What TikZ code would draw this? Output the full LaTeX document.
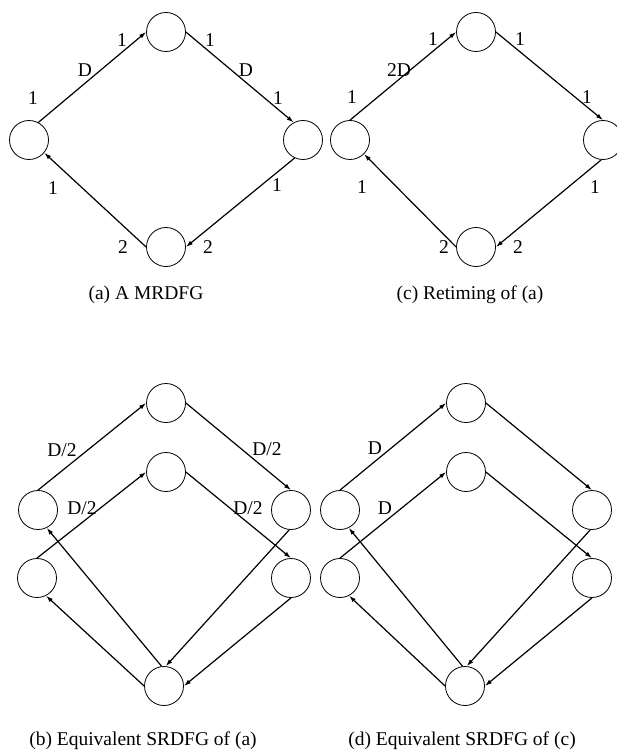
\documentclass[tikz,border=0pt]{standalone}
\usepackage{fontspec}
\setmainfont{Liberation Serif}
\usetikzlibrary{arrows.meta}
\begin{document}
\begin{tikzpicture}[x=1pt,y=-1pt,
  vtx/.style={circle,draw,line width=0.8pt,minimum size=39pt,inner sep=0pt},
  edge/.style={line width=1.2pt,-{Latex[length=7pt,width=4.5pt]}},
  lbl/.style={font=\fontsize{19.5}{22}\selectfont,inner sep=0pt,anchor=base},
  captxt/.style={font=\fontsize{19.5}{22}\selectfont,inner sep=0pt,anchor=base}]
\clip (0,0) rectangle (617,751);

% ---------- (a) multirate graph ----------
\node[vtx] (aT) at (166,32) {};
\node[vtx] (aL) at (29,140) {};
\node[vtx] (aR) at (303,140) {};
\node[vtx] (aB) at (166,247) {};
\draw[edge] (aL.62) -- (aT.west);
\draw[edge] (aT.east) -- (aR.118);
\draw[edge] (aR.245) -- (aB.east);
\draw[edge] (aB.west) -- (aL.-40);
\node[lbl] (a1) at (33,104.5) {1};
\node[lbl] (a2) at (85,76.5) {D};
\node[lbl] (a3) at (122,46.5) {1};
\node[lbl] (a4) at (210,46.5) {1};
\node[lbl] (a5) at (246,76.5) {D};
\node[lbl] (a6) at (278,104.5) {1};
\node[lbl] (a7) at (53,194.5) {1};
\node[lbl] (a8) at (277,191.5) {1};
\node[lbl] (a9) at (123,253.5) {2};
\node[lbl] (a10) at (208,253.5) {2};
\node[captxt] (capa) at (146,299) {(a) A MRDFG};

% ---------- (c) retimed graph ----------
\node[vtx] (cT) at (476,32) {};
\node[vtx] (cL) at (350,140) {};
\node[vtx] (cR) at (603,140) {};
\node[vtx] (cB) at (476,247) {};
\draw[edge] (cL.north) -- (cT.west);
\draw[edge] (cT.east) -- (cR.north);
\draw[edge] (cR.265) -- (cB.east);
\draw[edge] (cB.west) -- (cL.-45);
\node[lbl] (c1) at (352,103.5) {1};
\node[lbl] (c2) at (399,76.5) {2D};
\node[lbl] (c3) at (433,45.5) {1};
\node[lbl] (c4) at (520,45.5) {1};
\node[lbl] (c5) at (587,103.5) {1};
\node[lbl] (c6) at (595,193.5) {1};
\node[lbl] (c7) at (362,193.5) {1};
\node[lbl] (c8) at (444,253.5) {2};
\node[lbl] (c9) at (518,253.5) {2};
\node[captxt] (capc) at (470,299) {(c) Retiming of (a)};

% ---------- (b) single-rate equivalent of (a) ----------
\node[vtx] (bT1) at (166,403) {};
\node[vtx] (bT2) at (166,472) {};
\node[vtx] (bLU) at (38,510) {};
\node[vtx] (bLL) at (37,578) {};
\node[vtx] (bRU) at (291,510) {};
\node[vtx] (bRL) at (291,578) {};
\node[vtx] (bB) at (164,686) {};
\draw[edge] (bLU.north) -- (bT1.west);
\draw[edge] (bLL.north) -- (bT2.west);
\draw[edge] (bT1.east) -- (bRU.north);
\draw[edge] (bT2.east) -- (bRL.north);
\draw[edge] (bRU.265) -- (bB.85);
\draw[edge] (bRL.south) -- (bB.east);
\draw[edge] (bB.97) -- (bLU.-64);
\draw[edge] (bB.west) -- (bLL.-63);
\node[lbl] (b1) at (62,456.5) {D/2};
\node[lbl] (b2) at (82,514.5) {D/2};
\node[lbl] (b3) at (267,455.5) {D/2};
\node[lbl] (b4) at (248,514.5) {D/2};
\node[captxt] (capb) at (143,745) {(b) Equivalent SRDFG of (a)};

% ---------- (d) single-rate equivalent of (c) ----------
\node[vtx] (dT1) at (466,403) {};
\node[vtx] (dT2) at (466,472) {};
\node[vtx] (dLU) at (340,510) {};
\node[vtx] (dLL) at (340,578) {};
\node[vtx] (dRU) at (592,510) {};
\node[vtx] (dRL) at (592,578) {};
\node[vtx] (dB) at (465,686) {};
\draw[edge] (dLU.north) -- (dT1.west);
\draw[edge] (dLL.north) -- (dT2.west);
\draw[edge] (dT1.east) -- (dRU.north);
\draw[edge] (dT2.east) -- (dRL.north);
\draw[edge] (dRU.265) -- (dB.85);
\draw[edge] (dRL.south) -- (dB.east);
\draw[edge] (dB.97) -- (dLU.-64);
\draw[edge] (dB.west) -- (dLL.-63);
\node[lbl] (d1) at (375,454.5) {D};
\node[lbl] (d2) at (385,514.5) {D};
\node[captxt] (capd) at (462,745) {(d) Equivalent SRDFG of (c)};
\end{tikzpicture}
\end{document}
